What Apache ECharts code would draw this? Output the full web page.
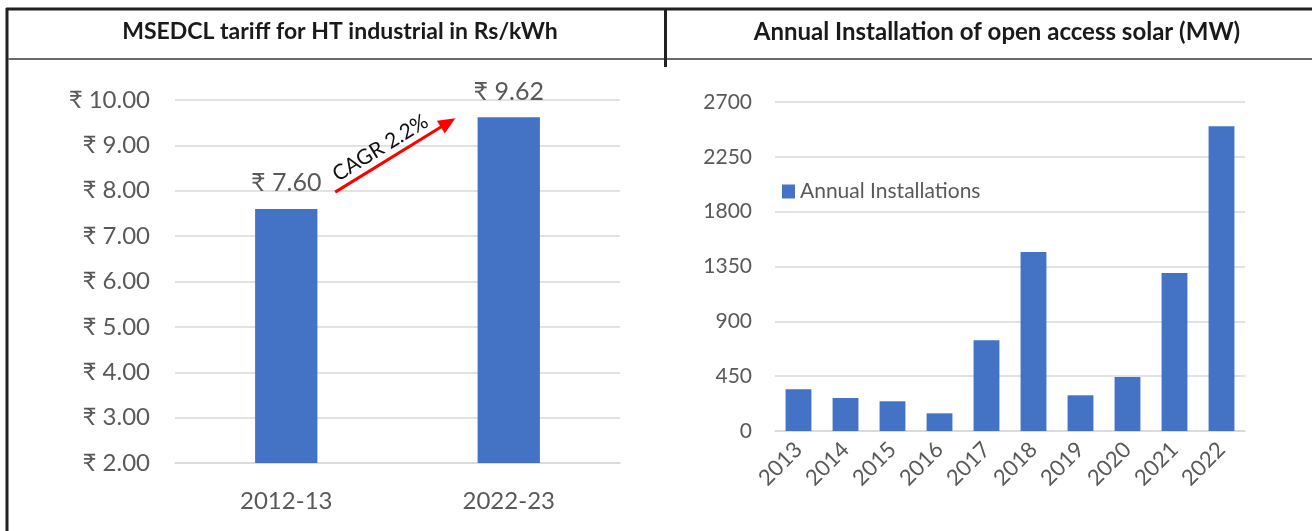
<!DOCTYPE html>
<html>
<head>
<meta charset="utf-8">
<title>MSEDCL tariff and open access solar</title>
<script src="https://cdn.jsdelivr.net/npm/echarts@6/dist/echarts.min.js"></script>
<style>
    html, body { margin: 0; padding: 0; background: #fff; }
    #main { width: 1312px; height: 531px; }
</style>
</head>
<body>
<div id="main"></div>
<script>
// tariff chart data
var tariffYears = ['2012-13', '2022-23']
var tariffValues = [7.60, 9.62]
var cagrText = 'CAGR 2.2%'

// open access solar data
var solarYears = ['2013', '2014', '2015', '2016', '2017', '2018', '2019', '2020', '2021', '2022']
var solarValues = [342, 271, 244, 145, 744, 1469, 293, 443, 1297, 2500]
var solarName = 'Annual Installations'

var FONT = 'Lato, "Noto Sans", "DejaVu Sans", sans-serif'
var GRAY = '#595959'
var GRID_COLOR = '#d9d9d9'
var BAR = '#4472c4'

var chart = echarts.init(document.getElementById('main'))

var option = {
    animation: false,
    backgroundColor: '#fff',
    textStyle: { fontFamily: FONT },
    title: [{
        text: 'MSEDCL tariff for HT industrial in Rs/kWh',
        left: 335, top: 15, textAlign: 'center',
        textStyle: { fontSize: 23, fontWeight: 'bold', color: '#1a1a1a', fontFamily: FONT }
    }, {
        text: 'Annual Installation of open access solar (MW)',
        left: 992, top: 15, textAlign: 'center',
        textStyle: { fontSize: 24, fontWeight: 'bold', color: '#1a1a1a', fontFamily: FONT }
    }],
    legend: {
        data: [solarName],
        left: 777, top: 176,
        icon: 'rect', itemWidth: 13, itemHeight: 14, itemGap: 5,
        textStyle: { fontSize: 21, color: GRAY, fontFamily: FONT }
    },
    grid: [
        { left: 175, right: 692, top: 100, bottom: 68 },
        { left: 775, right: 67, top: 102, bottom: 100 }
    ],
    xAxis: [{
        type: 'category', gridIndex: 0, data: tariffYears,
        axisTick: { show: false },
        axisLine: { lineStyle: { color: GRID_COLOR, width: 1.5 } },
        axisLabel: { fontSize: 24, color: GRAY, margin: 26, fontFamily: FONT }
    }, {
        type: 'category', gridIndex: 1, data: solarYears,
        axisTick: { show: false },
        axisLine: { lineStyle: { color: GRID_COLOR, width: 1.5 } },
        axisLabel: { fontSize: 22, color: GRAY, rotate: 45, margin: 15, fontFamily: FONT }
    }],
    yAxis: [{
        type: 'value', gridIndex: 0, min: 2, max: 10, interval: 1,
        axisLine: { show: false }, axisTick: { show: false },
        splitLine: { lineStyle: { color: GRID_COLOR, width: 1.5 } },
        axisLabel: {
            fontSize: 24, color: GRAY, margin: 25, fontFamily: FONT,
            formatter: function (v) { return '₹ ' + v.toFixed(2) }
        }
    }, {
        type: 'value', gridIndex: 1, min: 0, max: 2700, interval: 450,
        axisLine: { show: false }, axisTick: { show: false },
        splitLine: { lineStyle: { color: GRID_COLOR, width: 1.5 } },
        axisLabel: {
            fontSize: 21, color: GRAY, margin: 23, fontFamily: FONT,
            formatter: function (v) { return String(v) }
        }
    }],
    series: [{
        name: 'Tariff',
        type: 'bar', xAxisIndex: 0, yAxisIndex: 0,
        data: tariffValues,
        barWidth: '28%',
        itemStyle: { color: BAR },
        label: {
            show: true, position: 'top', distance: 13,
            fontSize: 25, color: GRAY, fontFamily: FONT,
            formatter: function (p) { return '₹ ' + p.value.toFixed(2) }
        }
    }, {
        name: solarName,
        type: 'bar', xAxisIndex: 1, yAxisIndex: 1,
        data: solarValues,
        barWidth: '55%',
        itemStyle: { color: BAR }
    }]
}

chart.setOption(option)

// frame lines around the two panels
function frameLines () {
    var dark = '#222'
    return [
        { type: 'line', shape: { x1: 6, y1: 9, x2: 1312, y2: 9 }, style: { stroke: dark, lineWidth: 3 } },
        { type: 'line', shape: { x1: 7, y1: 8, x2: 7, y2: 531 }, style: { stroke: dark, lineWidth: 3 } },
        { type: 'line', shape: { x1: 8, y1: 59, x2: 1312, y2: 59 }, style: { stroke: '#6a6a6a', lineWidth: 2 } },
        { type: 'line', shape: { x1: 665.5, y1: 8, x2: 665.5, y2: 67 }, style: { stroke: dark, lineWidth: 3 } }
    ]
}

// CAGR arrow, anchored to the tariff axes
function cagrArrow () {
    var c0 = chart.convertToPixel({ xAxisIndex: 0, yAxisIndex: 0 }, [0, 7.97])
    var c1 = chart.convertToPixel({ xAxisIndex: 0, yAxisIndex: 0 }, [1, 9.60])
    var band = c1[0] - c0[0]
    var x0 = c0[0] + band * 0.22
    var x1 = c1[0] - band * 0.24
    var y0 = c0[1]
    var y1 = c1[1]
    var dx = x1 - x0
    var dy = y1 - y0
    var len = Math.sqrt(dx * dx + dy * dy)
    var ux = dx / len
    var uy = dy / len
    var nx = uy
    var ny = -ux
    var headLen = 17
    var headW = 7.5
    var bx = x1 - ux * headLen
    var by = y1 - uy * headLen
    var mx = (x0 + x1) / 2
    var my = (y0 + y1) / 2
    return [
        { type: 'line', shape: { x1: x0, y1: y0, x2: bx + ux * 2, y2: by + uy * 2 }, style: { stroke: '#ff0000', lineWidth: 3 } },
        {
            type: 'polygon',
            shape: { points: [[x1, y1], [bx + nx * headW, by + ny * headW], [bx - nx * headW, by - ny * headW]] },
            style: { fill: '#ff0000' }
        },
        {
            type: 'text',
            x: mx + nx * 14 - ux * 9,
            y: my + ny * 14 - uy * 9,
            rotation: -Math.atan2(dy, dx),
            style: {
                text: cagrText, fontSize: 21, fontFamily: FONT, fill: '#111',
                align: 'center', verticalAlign: 'middle'
            }
        }
    ]
}

chart.setOption({ graphic: frameLines().concat(cagrArrow()) })
</script>
</body>
</html>
